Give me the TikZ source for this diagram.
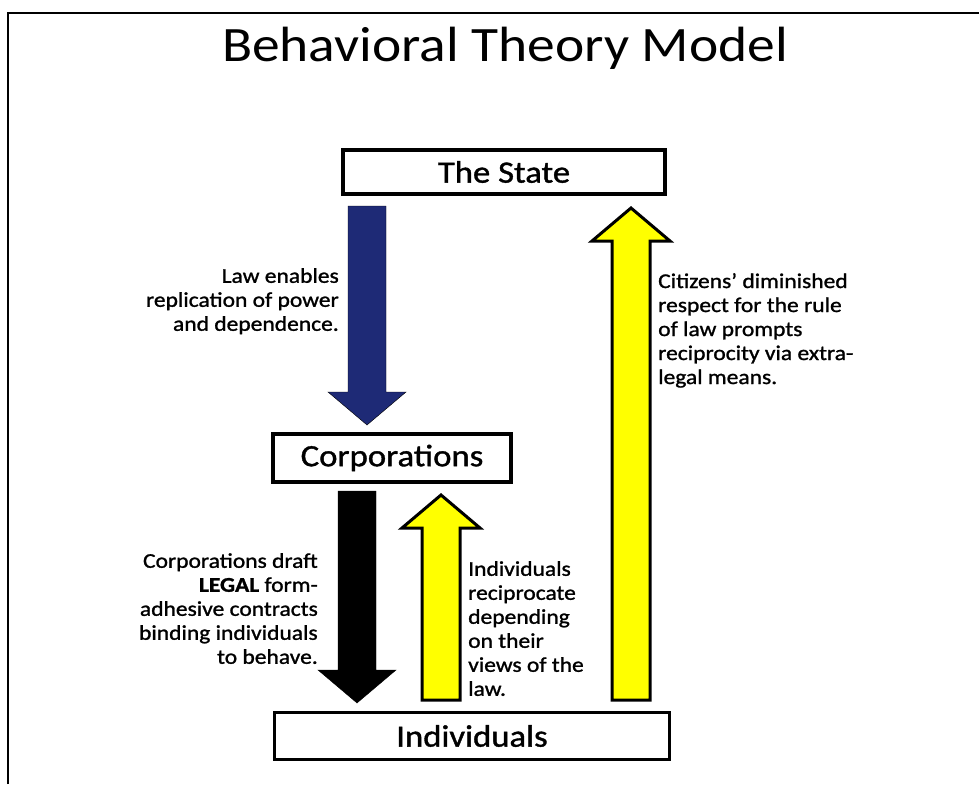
\documentclass[tikz,border=0pt]{standalone}
\usepackage{fontspec}
\setmainfont{Carlito}[FakeStretch=1.12]
\newfontfamily\notefont{Carlito}[FakeStretch=1.12, FakeBold=1.2]
\usetikzlibrary{calc}

\definecolor{lawblue}{RGB}{30,42,118}
\definecolor{flowyellow}{RGB}{255,255,0}

% block arrow from #2 (tail) to #3 (tip)
\newcommand{\fatarrow}[3][]{%
  \coordinate (fa-base) at ($(#3)!33pt!(#2)$);
  \draw[#1] ($(#2)!19pt!90:(#3)$) -- ($(fa-base)!19pt!90:(#3)$)
    -- ($(fa-base)!39pt!90:(#3)$) -- (#3) -- ($(fa-base)!39pt!-90:(#3)$)
    -- ($(fa-base)!19pt!-90:(#3)$) -- ($(#2)!19pt!-90:(#3)$) -- cycle;}

\begin{document}
\begin{tikzpicture}[x=1pt, y=-1pt,
    box/.style={draw, line width=3.5pt, inner sep=0pt, font=\notefont\fontsize{31}{36}\selectfont},
    note/.style={inner sep=0pt, font=\notefont\fontsize{21}{24}\selectfont},
    outlined/.style={draw=black, line width=3pt, line join=miter}]
  \useasboundingbox (0,0) rectangle (979,784);
  \draw[line width=2.5pt] (8,784) -- (8,13) -- (979,13);

  \node (title) at (505,48) {\fontsize{49.5}{55}\selectfont Behavioral Theory Model};

  % the three levels
  \node[box, minimum width=322, minimum height=44] (state) at (504,172) {The State};
  \node[box, minimum width=238, minimum height=48] (corp) at (392,458) {Corporations};
  \node[box, minimum width=395, minimum height=47] (indiv) at (472,736) {Individuals};

  % arrow ends
  \coordinate (law-tail) at (367,206);
  \coordinate (law-tip) at (367,425);
  \coordinate (contract-tail) at (357,491);
  \coordinate (contract-tip) at (357,703);
  \coordinate (recip-tail) at (441,700);
  \coordinate (recip-tip) at (441,495);
  \coordinate (extra-tail) at (631,700);
  \coordinate (extra-tip) at (631,208);

  \fatarrow[fill=lawblue]{law-tail}{law-tip}
  \fatarrow[fill=black]{contract-tail}{contract-tip}
  \fatarrow[fill=flowyellow, outlined]{recip-tail}{recip-tip}
  \fatarrow[fill=flowyellow, outlined]{extra-tail}{extra-tip}

  % labels
  \node[note, align=right, anchor=north east] (lawtext) at (339,268)
    {Law enables\\replication of power\\and dependence.};
  \node[note, align=left, anchor=north west] (extratext) at (658,273)
    {Citizens’ diminished\\respect for the rule\\of law prompts\\reciprocity via extra-\\legal means.};
  \node[note, align=right, anchor=north east] (contracttext) at (318,553)
    {Corporations draft\\\textbf{LEGAL} form-\\adhesive contracts\\binding individuals\\to behave.};
  \node[note, align=left, anchor=north west] (reciptext) at (468,561)
    {Individuals\\reciprocate\\depending\\on their\\views of the\\law.};
\end{tikzpicture}
\end{document}
